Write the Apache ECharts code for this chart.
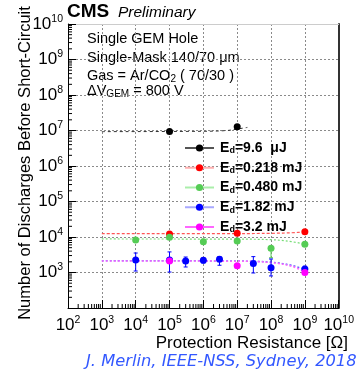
<!DOCTYPE html>
<html>
<head>
<meta charset="utf-8">
<script src="https://cdn.jsdelivr.net/npm/echarts@6/dist/echarts.min.js"></script>
<style>
  html, body { margin: 0; padding: 0; background: #fff; }
  #chart { width: 357px; height: 376px; }
</style>
</head>
<body>
<div id="chart"></div>
<script>
// Protection resistance [Ohm] and number of discharges before short-circuit
const resBlack = [1e5, 1e7];
const nBlack = [9.3e6, 1.28e7];

const resRed = [1e5, 1e7, 1e9];
const nRed = [1.21e4, 1.27e4, 1.41e4];

const resGreen = [1e4, 1e5, 1e6, 1e7, 1e8, 1e9];
const nGreen = [8.2e3, 9.8e3, 7.4e3, 7.7e3, 4.8e3, 6.2e3];
const loGreen = [7.6e3, 9.0e3, 6.9e3, 7.2e3, 2.6e3, 5.7e3];
const hiGreen = [8.8e3, 1.06e4, 7.9e3, 8.2e3, 5.4e3, 6.7e3];

const resBlue = [1e4, 1e5, 3e5, 1e6, 3e6, 3e7, 1e8, 1e9];
const nBlue = [2.25e3, 2.25e3, 2.1e3, 2.2e3, 2.35e3, 1.8e3, 1.37e3, 1.25e3];
const loBlue = [1.1e3, 1.03e3, 1.43e3, 1.85e3, 1.6e3, 9.7e2, 8.0e2, 1.05e3];
const hiBlue = [3.54e3, 3.8e3, 2.73e3, 2.55e3, 2.8e3, 2.8e3, 2.4e3, 1.5e3];

const resMagenta = [1e5, 1e7, 1e9];
const nMagenta = [2.1e3, 1.55e3, 1.0e3];

// Fitted trend curves
const fitBlackR = [1e3, 1e6, 5e6, 1e7, 2e7];
const fitBlackN = [9.3e6, 9.5e6, 1.0e7, 1.1e7, 1.22e7];
const fitRedR = [1e3, 1e7, 1e8, 5e8, 1e9];
const fitRedN = [1.25e4, 1.25e4, 1.27e4, 1.33e4, 1.4e4];
const fitGreenR = [1e3, 1e7, 1e8, 4e8, 1e9];
const fitGreenN = [8.8e3, 8.7e3, 8.4e3, 7.4e3, 6.3e3];
const fitBlueR = [1e3, 1e7, 1e8, 4e8, 1e9];
const fitBlueN = [2.15e3, 2.1e3, 1.95e3, 1.6e3, 1.2e3];
const fitMagentaR = [1e3, 1e7, 1e8, 4e8, 1e9];
const fitMagentaN = [2.12e3, 2.08e3, 1.9e3, 1.5e3, 1.05e3];

const legendEnergy = ['9.6  \u03bcJ', '0.218 mJ', '0.480 mJ', '1.82 mJ', '3.2 mJ'];
const seriesColors = ['#000000', '#ff0000', '#55cc55', '#0000ff', '#ff00ff'];
const legendLineColors = ['#555555', '#ffb0b0', '#aaeeaa', '#a8a8ff', '#ff66ff'];
const seriesNames = ['black', 'red', 'green', 'blue', 'magenta'];

const xMin = 1e2, xMax = 1e10, yMin = 1e2, yMax = 1e10;

const FONT = 'Liberation Sans, Arial, sans-serif';

function pairs(xs, ys) { return xs.map((x, i) => [x, ys[i]]); }
function bars(xs, ys, lo, hi) { return xs.map((x, i) => [x, ys[i], lo[i], hi[i]]); }

// Logarithmic minor tick positions (2..9 x 10^k)
const minorX = [], minorY = [];
for (let e = 2; e < 10; e++) {
  for (let m = 2; m <= 9; m++) {
    minorX.push([m * Math.pow(10, e), yMin]);
    minorY.push([xMin, m * Math.pow(10, e)]);
  }
}

function pow10Label(v) {
  const e = Math.round(Math.log10(v));
  return '{b|10}{s|' + e + '}';
}
const powRich = {
  b: { fontFamily: FONT, fontSize: 17, lineHeight: 21, color: '#000' },
  s: { fontFamily: FONT, fontSize: 10.5, lineHeight: 10, verticalAlign: 'top', color: '#000' }
};

const chart = echarts.init(document.getElementById('chart'), null, { renderer: 'canvas' });

function errorBarSeries(data, color) {
  return {
    type: 'custom',
    xAxisIndex: 0, yAxisIndex: 0,
    silent: true,
    z: 3,
    data: data,
    renderItem: function (params, api) {
      const x = api.value(0);
      const pLo = api.coord([x, api.value(2)]);
      const pHi = api.coord([x, api.value(3)]);
      const c = 2;
      return {
        type: 'group',
        children: [
          { type: 'line', shape: { x1: pLo[0], y1: pLo[1], x2: pHi[0], y2: pHi[1] }, style: { stroke: color, lineWidth: 1 } },
          { type: 'line', shape: { x1: pLo[0] - c, y1: pLo[1], x2: pLo[0] + c, y2: pLo[1] }, style: { stroke: color, lineWidth: 1 } },
          { type: 'line', shape: { x1: pHi[0] - c, y1: pHi[1], x2: pHi[0] + c, y2: pHi[1] }, style: { stroke: color, lineWidth: 1 } }
        ]
      };
    }
  };
}

function fitSeries(xs, ys, color, dash, width) {
  return {
    type: 'line',
    data: pairs(xs, ys),
    smooth: 0.4,
    showSymbol: false,
    silent: true,
    z: 2,
    lineStyle: { color: color, width: width || 1.2, type: dash }
  };
}

// Measured points: line series with the connecting line hidden,
// so the legend draws a line segment with the marker on it.
function pointSeries(name, xs, ys, color) {
  return {
    name: name,
    type: 'line',
    data: pairs(xs, ys),
    symbol: 'circle',
    symbolSize: 7,
    showSymbol: true,
    z: 4,
    itemStyle: { color: color },
    lineStyle: { opacity: 0, width: 0.01 }
  };
}

function tickSeries(data, vertical) {
  return {
    type: 'custom',
    silent: true,
    z: 5,
    data: data,
    renderItem: function (params, api) {
      const p = api.coord([api.value(0), api.value(1)]);
      const len = 4;
      const shape = vertical
        ? { x1: p[0], y1: p[1], x2: p[0], y2: p[1] - len }
        : { x1: p[0], y1: p[1], x2: p[0] + len, y2: p[1] };
      return { type: 'line', shape: shape, style: { stroke: '#000', lineWidth: 1 } };
    }
  };
}

const subRich = {
  a: { fontFamily: FONT, fontSize: 14.5, lineHeight: 17, fill: '#000' },
  s: { fontFamily: FONT, fontSize: 10, lineHeight: 10, verticalAlign: 'bottom', fill: '#000' }
};

const option = {
  animation: false,
  backgroundColor: '#fff',
  grid: { left: 68, right: 9, top: 24, bottom: 68, containLabel: false },
  xAxis: [
    {
      type: 'log', logBase: 10, min: xMin, max: xMax, splitNumber: 8,
      axisLine: { show: true, lineStyle: { color: '#000', width: 1 } },
      axisTick: { show: true, inside: true, length: 8, lineStyle: { color: '#000' } },
      minorTick: { show: false },
      splitLine: { show: true, lineStyle: { color: '#8a8a8a', width: 1, type: [2, 2] } },
      axisLabel: { margin: 7, formatter: pow10Label, rich: powRich }
    },
    {
      type: 'log', logBase: 10, min: xMin, max: xMax, position: 'top',
      axisLine: { show: true, lineStyle: { color: '#cccccc', width: 1 } },
      axisTick: { show: false }, axisLabel: { show: false }, splitLine: { show: false }
    }
  ],
  yAxis: [
    {
      type: 'log', logBase: 10, min: yMin, max: yMax, splitNumber: 8,
      axisLine: { show: true, lineStyle: { color: '#000', width: 1 } },
      axisTick: { show: true, inside: true, length: 8, lineStyle: { color: '#000' } },
      minorTick: { show: false },
      splitLine: { show: true, lineStyle: { color: '#8a8a8a', width: 1, type: [2, 2] } },
      axisLabel: { margin: 5, showMinLabel: false, formatter: pow10Label, rich: powRich }
    },
    {
      type: 'log', logBase: 10, min: yMin, max: yMax, position: 'right',
      axisLine: { show: true, lineStyle: { color: '#333', width: 2 } },
      axisTick: { show: false }, axisLabel: { show: false }, splitLine: { show: false }
    }
  ],
  legend: {
    left: 184, top: 141, orient: 'vertical', padding: 0,
    itemWidth: 29, itemHeight: 9, itemGap: 5.25,
    data: seriesNames.map((n, i) => ({
      name: n,
      lineStyle: { color: legendLineColors[i], width: 2, opacity: 1 }
    })),
    selectedMode: false,
    formatter: function (name) {
      const i = seriesNames.indexOf(name);
      return '{g| }{a|E}{d|d}{a|=' + legendEnergy[i] + '}';
    },
    textStyle: {
      rich: {
        g: { fontFamily: FONT, fontSize: 4, lineHeight: 15 },
        a: { fontFamily: FONT, fontSize: 14, fontWeight: 'bold', lineHeight: 15, color: '#000' },
        d: { fontFamily: FONT, fontSize: 9, fontWeight: 'bold', lineHeight: 9, verticalAlign: 'bottom', color: '#000' }
      }
    }
  },
  series: [
    fitSeries(fitBlackR, fitBlackN, '#333', [3, 3], 1),
    fitSeries(fitRedR, fitRedN, '#ff5555', [3, 2], 1.2),
    fitSeries(fitGreenR, fitGreenN, '#77dd77', [2, 2], 1.2),
    fitSeries(fitBlueR, fitBlueN, '#6a6aff', [2, 2], 1.5),
    fitSeries(fitMagentaR, fitMagentaN, '#ff66ff', [2, 2], 1.5),
    errorBarSeries(bars(resGreen, nGreen, loGreen, hiGreen), seriesColors[2]),
    errorBarSeries(bars(resBlue, nBlue, loBlue, hiBlue), seriesColors[3]),
    pointSeries(seriesNames[0], resBlack, nBlack, seriesColors[0]),
    pointSeries(seriesNames[1], resRed, nRed, seriesColors[1]),
    pointSeries(seriesNames[2], resGreen, nGreen, seriesColors[2]),
    pointSeries(seriesNames[3], resBlue, nBlue, seriesColors[3]),
    pointSeries(seriesNames[4], resMagenta, nMagenta, seriesColors[4]),
    tickSeries(minorX, true),
    tickSeries(minorY, false)
  ],
  graphic: [
    { type: 'text', x: 67, y: 12, style: { text: 'CMS', font: 'bold 19px ' + FONT, fill: '#000', verticalAlign: 'middle' } },
    { type: 'text', x: 118, y: 13, style: { text: 'Preliminary', font: 'italic 15.5px ' + FONT, fill: '#000', verticalAlign: 'middle' } },
    { type: 'text', x: 87, y: 39, style: { text: 'Single GEM Hole', font: '14.5px ' + FONT, fill: '#000', verticalAlign: 'middle' } },
    { type: 'text', x: 87, y: 57.5, style: { text: 'Single-Mask 140/70 \u03bcm', font: '14.5px ' + FONT, fill: '#000', verticalAlign: 'middle' } },
    {
      type: 'text', x: 87, y: 75.5,
      style: { text: '{a|Gas = Ar/CO}{s|2}{a| ( 70/30 )}', rich: subRich, verticalAlign: 'middle' }
    },
    {
      type: 'text', x: 87, y: 91,
      style: { text: '{a|\u0394V}{s|GEM}{a| = 800 V}', rich: subRich, verticalAlign: 'middle' }
    },
    {
      type: 'text', x: 25, y: 163, rotation: Math.PI / 2,
      style: {
        text: 'Number of Discharges Before Short-Circuit',
        font: '16.5px ' + FONT, fill: '#000', align: 'center', verticalAlign: 'middle'
      }
    },
    {
      type: 'text', x: 348, y: 343,
      style: { text: 'Protection Resistance [\u03a9]', font: '17px ' + FONT, fill: '#000', align: 'right', verticalAlign: 'middle' }
    },
    {
      type: 'text', x: 86, y: 362,
      style: { text: 'J. Merlin, IEEE-NSS, Sydney, 2018', font: 'italic 16.3px "DejaVu Sans", sans-serif', fill: '#3358ff', align: 'left', verticalAlign: 'middle' }
    }
  ]
};

chart.setOption(option);
</script>
</body>
</html>
